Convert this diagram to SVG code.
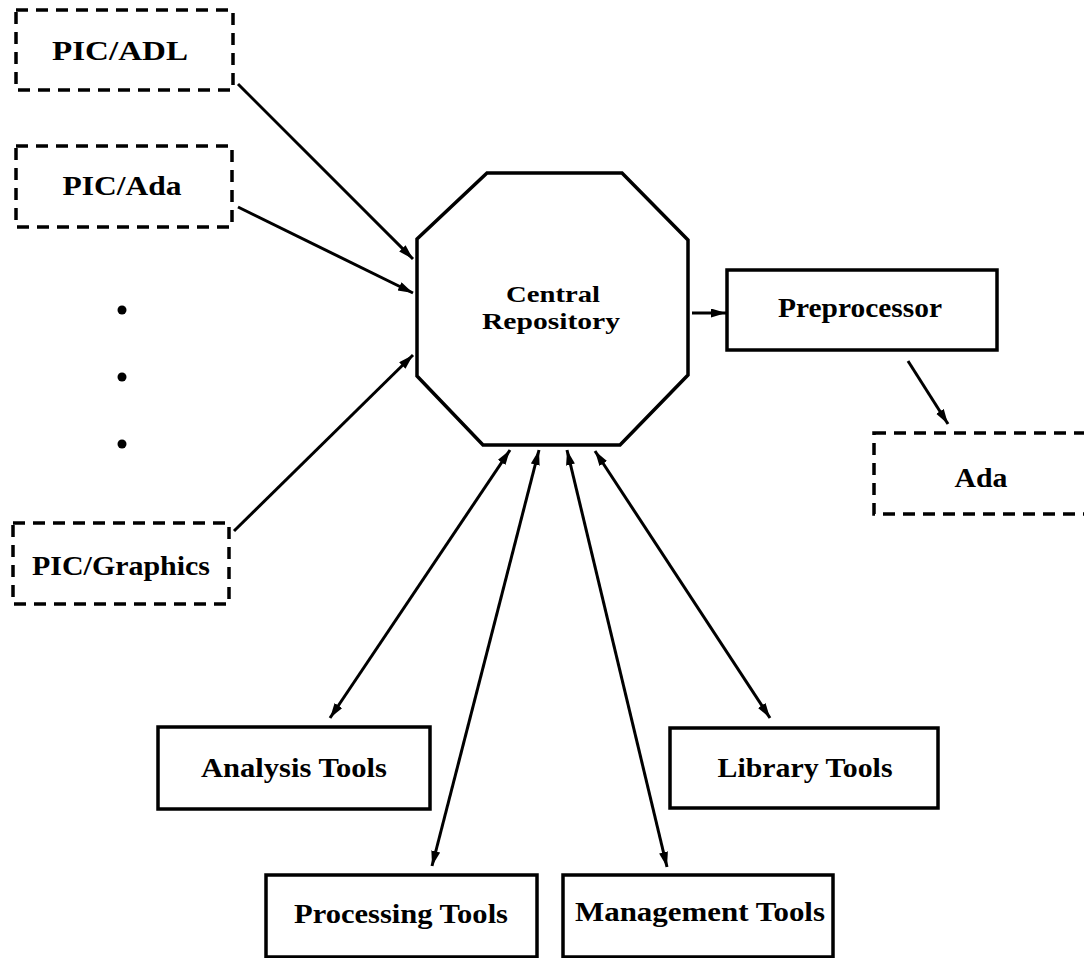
<svg xmlns="http://www.w3.org/2000/svg" width="1084" height="958" viewBox="0 0 1084 958">
<style>
.bg{fill:#ffffff}
.box{fill:none;stroke:#000;stroke-width:3.5}
.dash{fill:none;stroke:#000;stroke-width:3.5;stroke-dasharray:12 8}
.lbl{font-family:"Liberation Serif","Times New Roman",serif;font-weight:bold;font-size:27px;fill:#000;text-anchor:middle}
.sm{font-size:24px}
.edge{fill:none;stroke:#000;stroke-width:3}
.dot{fill:#000}
</style>
<defs>
<marker id="ah" markerUnits="userSpaceOnUse" markerWidth="16" markerHeight="10" refX="15" refY="4.5" orient="auto-start-reverse">
<path d="M0,0 L15,4.5 L0,9 z" fill="#000"/>
</marker>
</defs>
<rect class="bg" x="0" y="0" width="1084" height="958"/>

<g id="pic-adl">
<rect class="dash" x="16" y="10" width="217" height="80"/>
<text class="lbl" x="120" y="60" textLength="136" lengthAdjust="spacingAndGlyphs">PIC/ADL</text>
</g>
<g id="pic-ada">
<rect class="dash" x="16" y="146" width="216" height="81"/>
<text class="lbl" x="122" y="195" textLength="119" lengthAdjust="spacingAndGlyphs">PIC/Ada</text>
</g>
<g id="ellipsis">
<circle class="dot" cx="122" cy="310" r="4.5"/>
<circle class="dot" cx="122" cy="377" r="4.5"/>
<circle class="dot" cx="122" cy="444" r="4.5"/>
</g>
<g id="pic-graphics">
<rect class="dash" x="13" y="523" width="216" height="81"/>
<text class="lbl" x="121" y="575" textLength="178" lengthAdjust="spacingAndGlyphs">PIC/Graphics</text>
</g>
<g id="central-repository">
<polygon class="box" points="487,173 622,173 688,240 688,375 620,445 483,445 417,376 417,239"/>
<text class="lbl sm" x="553" y="302" textLength="94" lengthAdjust="spacingAndGlyphs">Central</text>
<text class="lbl sm" x="551" y="329" textLength="138" lengthAdjust="spacingAndGlyphs">Repository</text>
</g>
<g id="preprocessor">
<rect class="box" x="727" y="270" width="270" height="80"/>
<text class="lbl" x="860" y="317" textLength="164" lengthAdjust="spacingAndGlyphs">Preprocessor</text>
</g>
<g id="ada">
<rect class="dash" x="874" y="433" width="230" height="81"/>
<text class="lbl" x="981" y="487" textLength="53" lengthAdjust="spacingAndGlyphs">Ada</text>
</g>
<g id="analysis-tools">
<rect class="box" x="158" y="727" width="272" height="82"/>
<text class="lbl" x="294" y="777" textLength="186" lengthAdjust="spacingAndGlyphs">Analysis Tools</text>
</g>
<g id="library-tools">
<rect class="box" x="670" y="728" width="268" height="80"/>
<text class="lbl" x="805" y="777" textLength="175" lengthAdjust="spacingAndGlyphs">Library Tools</text>
</g>
<g id="processing-tools">
<rect class="box" x="266" y="875" width="271" height="82"/>
<text class="lbl" x="401" y="923" textLength="214" lengthAdjust="spacingAndGlyphs">Processing Tools</text>
</g>
<g id="management-tools">
<rect class="box" x="563" y="875" width="270" height="82"/>
<text class="lbl" x="700" y="921" textLength="250" lengthAdjust="spacingAndGlyphs">Management Tools</text>
</g>

<g id="connectors">
<line class="edge" x1="238" y1="84" x2="413" y2="259" marker-end="url(#ah)"/>
<line class="edge" x1="238" y1="207" x2="413" y2="293" marker-end="url(#ah)"/>
<line class="edge" x1="234" y1="531" x2="413" y2="355" marker-end="url(#ah)"/>
<line class="edge" x1="692" y1="313" x2="726" y2="313" marker-end="url(#ah)"/>
<line class="edge" x1="908" y1="361" x2="948" y2="424" marker-end="url(#ah)"/>
<line class="edge" x1="510" y1="450" x2="330" y2="718" marker-start="url(#ah)" marker-end="url(#ah)"/>
<line class="edge" x1="539" y1="450" x2="432" y2="866" marker-start="url(#ah)" marker-end="url(#ah)"/>
<line class="edge" x1="567" y1="450" x2="667" y2="867" marker-start="url(#ah)" marker-end="url(#ah)"/>
<line class="edge" x1="595" y1="451" x2="770" y2="718" marker-start="url(#ah)" marker-end="url(#ah)"/>
</g>
</svg>
